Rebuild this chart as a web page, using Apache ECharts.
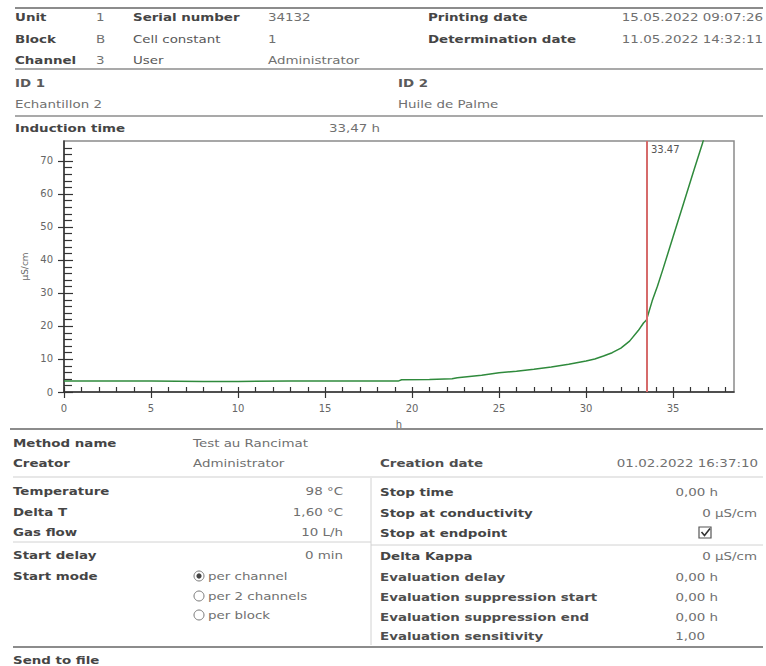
<!DOCTYPE html>
<html><head><meta charset="utf-8">
<script src="https://cdn.jsdelivr.net/npm/echarts@6/dist/echarts.min.js"></script>
<style>html,body{margin:0;padding:0;background:#fff}#c{width:766px;height:666px}</style>
</head><body><div id="c"></div>
<script>
// ---- chart data ----
const timeH = [0, 2, 5, 8, 10, 13, 15, 17, 19.2, 19.4, 21, 22.3, 22.6, 24, 25, 26, 27, 28, 29, 30, 30.5, 31, 31.5, 32, 32.5, 33, 33.3, 33.47, 33.8, 34.1, 34.4, 35, 35.6, 36.2, 36.7, 36.9];
const conductivity = [3.3, 3.3, 3.3, 3.2, 3.2, 3.3, 3.3, 3.3, 3.3, 3.7, 3.8, 4.0, 4.3, 5.1, 5.8, 6.3, 6.9, 7.6, 8.4, 9.4, 10.0, 10.9, 11.9, 13.3, 15.4, 18.6, 20.9, 21.8, 27.6, 32.0, 36.9, 47.0, 57.1, 67.2, 75.5, 79.0];
const inductionTime = 33.47;
const xMax = 38.5, yMax = 76;
const xLabelStep = 5, yLabelStep = 10;
const xTickValues = [0,1,2,3,4,5,6,7,8,9,10,11,12,13,14,15,16,17,18,19,20,21,22,23,24,25,26,27,28,29,30,31,32,33,34,35,36,37,38];
const yTickValues = [0,2,4,6,8,10,12,14,16,18,20,22,24,26,28,30,32,34,36,38,40,42,44,46,48,50,52,54,56,58,60,62,64,66,68,70,72,74];

// ---- report texts ----
const headerLabels1 = ['Unit', 'Block', 'Channel'];
const headerValues1 = ['1', 'B', '3'];
const headerLabels2 = ['Serial number', 'Cell constant', 'User'];
const headerValues2 = ['34132', '1', 'Administrator'];
const headerLabels3 = ['Printing date', 'Determination date'];
const headerValues3 = ['15.05.2022 09:07:26', '11.05.2022 14:32:11'];
const leftParams = ['Temperature', 'Delta T', 'Gas flow', 'Start delay'];
const leftValues = ['98 °C', '1,60 °C', '10 L/h', '0 min'];
const startModes = ['per channel', 'per 2 channels', 'per block'];
const rightParams = ['Stop time', 'Stop at conductivity', 'Stop at endpoint', 'Delta Kappa', 'Evaluation delay', 'Evaluation suppression start', 'Evaluation suppression end', 'Evaluation sensitivity'];
const rightValues = ['0,00 h', '0 µS/cm', '', '0 µS/cm', '0,00 h', '0,00 h', '0,00 h', '1,00'];

const FONT = '"DejaVu Sans", Verdana, sans-serif';
const SX = 1.22;
const LBL = '#454545', VAL = '#707070';

function T(text, x, y, bold, align, color) {
  return {
    type: 'text', x: x, y: y, scaleX: SX, silent: true,
    style: {
      text: text, fontSize: 11, fontFamily: FONT, fontWeight: bold ? 'bold' : 'normal',
      fill: color || (bold ? LBL : VAL),
      align: align || 'left', textAlign: align || 'left',
      verticalAlign: 'middle', textVerticalAlign: 'middle'
    }
  };
}
function L(x1, y1, x2, y2, color, w) {
  return { type: 'line', silent: true, shape: { x1: x1, y1: y1, x2: x2, y2: y2 },
    style: { stroke: color, lineWidth: w } };
}

const g = [];
// header
g.push(L(15, 8, 763, 8, '#8c8c8c', 2));
const hy = [17, 39, 60];
headerLabels1.forEach((t, i) => g.push(T(t, 15, hy[i], true)));
headerValues1.forEach((t, i) => g.push(T(t, 96, hy[i], false)));
headerLabels2.forEach((t, i) => g.push(T(t, 133, hy[i], i === 0, 'left', i === 0 ? LBL : '#585858')));
headerValues2.forEach((t, i) => g.push(T(t, 268, hy[i], false)));
headerLabels3.forEach((t, i) => g.push(T(t, 428, hy[i], true)));
headerValues3.forEach((t, i) => g.push(T(t, 763, hy[i], false, 'right')));
g.push(L(15, 69, 763, 69, '#8c8c8c', 1.5));
g.push(T('ID 1', 15, 83, true, 'left', '#5a5a5a'));
g.push(T('Echantillon 2', 15, 104, false));
g.push(T('ID 2', 398, 83, true, 'left', '#5a5a5a'));
g.push(T('Huile de Palme', 398, 104, false));
g.push(L(15, 116, 763, 116, '#8c8c8c', 1.5));
g.push(T('Induction time', 15, 128, true));
g.push(T(inductionTime.toFixed(2).replace('.', ',') + ' h', 380, 128, false, 'right'));

// footer
g.push(L(10, 429, 763, 429, '#8c8c8c', 2));
g.push(T('Method name', 13, 443, true));
g.push(T('Test au Rancimat', 193, 443, false));
g.push(T('Creator', 13, 463, true));
g.push(T('Administrator', 193, 463, false));
g.push(T('Creation date', 380, 463, true, 'left', '#4e4e4e'));
g.push(T('01.02.2022 16:37:10', 758, 463, false, 'right'));
g.push(L(13, 477, 763, 477, '#cfcfcf', 1));
const ly = [491, 512, 532, 555];
leftParams.forEach((t, i) => { g.push(T(t, 13, ly[i], true)); g.push(T(leftValues[i], 343, ly[i], false, 'right')); });
g.push(L(13, 542, 371, 542, '#d2d2d2', 1));
g.push(L(371, 545, 763, 545, '#d2d2d2', 1));
g.push(L(371, 478, 371, 645, '#d2d2d2', 1));
g.push(T('Start mode', 13, 576, true));
const my = [576, 596, 615];
startModes.forEach((t, i) => {
  g.push({ type: 'circle', silent: true, shape: { cx: 199, cy: my[i], r: 5 }, style: { fill: '#fff', stroke: '#777', lineWidth: 1 } });
  if (i === 0) g.push({ type: 'circle', silent: true, shape: { cx: 199, cy: my[i], r: 2.6 }, style: { fill: '#444' } });
  g.push(T(t, 208, my[i], false));
});
const ry = [492, 513, 533, 556, 577, 597, 617, 636];
const rRight = [718, 757, 0, 757, 718, 718, 718, 705];
rightParams.forEach((t, i) => {
  g.push(T(t, 380, ry[i], true, 'left', i >= 4 ? '#4e4e4e' : LBL));
  if (rightValues[i]) g.push(T(rightValues[i], rRight[i], ry[i], false, 'right'));
});
// checkbox
g.push({ type: 'rect', silent: true, shape: { x: 699, y: 527, width: 12, height: 11 }, style: { fill: '#fff', stroke: '#555', lineWidth: 1.2 } });
g.push({ type: 'polyline', silent: true, shape: { points: [[701.5, 532], [704.5, 535.5], [710, 528.5]] }, style: { fill: null, stroke: '#333', lineWidth: 1.6 } });
g.push(L(13, 647, 763, 647, '#8c8c8c', 2));
g.push(T('Send to file', 13, 660, true));

const seriesData = timeH.map((t, i) => [t, conductivity[i]]);
// tick marks: [value, 0 = x axis | 1 = y axis]
const tickData = xTickValues.map(v => [v, 0]).concat(yTickValues.map(v => [v, 1]));

function renderTick(params, api) {
  const v = api.value(0), kind = api.value(1);
  if (kind === 0) {
    const p = api.coord([v, 0]);
    const x = Math.round(p[0]) + 0.5;
    const major = v % xLabelStep === 0;
    return { type: 'line', shape: { x1: x, y1: p[1] - 5, x2: x, y2: p[1] + (major ? 6 : 0) },
      style: { stroke: '#333', lineWidth: 1.2 } };
  }
  const p = api.coord([0, v]);
  const y = Math.round(p[1]) + 0.5;
  const major = v % yLabelStep === 0;
  return { type: 'line', shape: { x1: p[0] - (major ? 6 : 0), y1: y, x2: p[0] + (major ? 9 : 8), y2: y },
    style: { stroke: '#333', lineWidth: 1.2 } };
}

const option = {
  animation: false,
  grid: { left: 64, right: 32, top: 141, bottom: 274, show: true, borderColor: '#8a8a8a', borderWidth: 1.5 },
  xAxis: {
    type: 'value', min: 0, max: xMax, interval: xLabelStep,
    splitLine: { show: false },
    axisLine: { show: true, onZero: false, lineStyle: { color: '#333', width: 1.5 } },
    axisTick: { show: false },
    axisLabel: { show: true, showMaxLabel: false, margin: 11, color: '#666', fontSize: 10, fontFamily: FONT },
    name: 'h', nameLocation: 'middle', nameGap: 27,
    nameTextStyle: { color: '#666', fontSize: 10, fontFamily: FONT }
  },
  yAxis: {
    type: 'value', min: 0, max: yMax, interval: yLabelStep,
    splitLine: { show: false },
    axisLine: { show: true, onZero: false, lineStyle: { color: '#333', width: 1.5 } },
    axisTick: { show: false },
    axisLabel: { show: true, showMaxLabel: false, margin: 11, color: '#666', fontSize: 10, fontFamily: FONT },
    name: 'µS/cm', nameLocation: 'middle', nameRotate: 90, nameGap: 31,
    nameTextStyle: { color: '#666', fontSize: 9, fontFamily: FONT }
  },
  series: [{
    type: 'line', data: seriesData,
    showSymbol: false, smooth: false, clip: true,
    lineStyle: { color: '#2f8a3c', width: 1.5 },
    markLine: {
      silent: true, symbol: ['none', 'none'],
      lineStyle: { color: '#d66b6b', width: 2, type: 'solid' },
      label: { show: false },
      data: [{ xAxis: inductionTime }]
    },
    markPoint: {
      silent: true, symbol: 'circle', symbolSize: 1, itemStyle: { color: 'rgba(0,0,0,0)' },
      label: { show: true, formatter: inductionTime.toFixed(2), position: 'right', distance: 4, offset: [0, 8], color: '#555', fontSize: 10, fontFamily: FONT },
      data: [{ coord: [inductionTime, yMax] }]
    }
  }, {
    type: 'custom', data: tickData, renderItem: renderTick,
    clip: false, encode: { x: 0, y: 1 }
  }],
  graphic: { elements: g }
};
const chart = echarts.init(document.getElementById('c'), null, { renderer: 'svg' });
chart.setOption(option);
</script>
</body></html>
